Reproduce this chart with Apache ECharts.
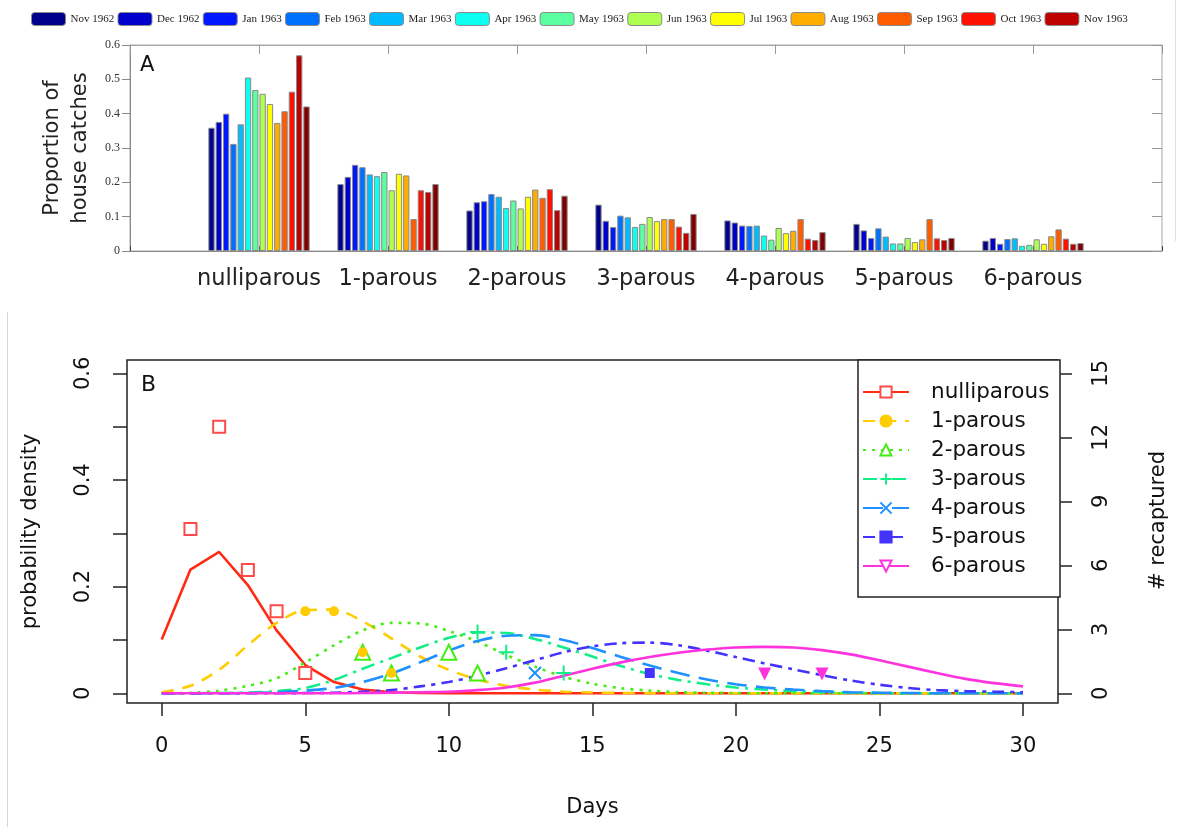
<!DOCTYPE html>
<html><head><meta charset="utf-8">
<script src="https://cdn.jsdelivr.net/npm/echarts@6/dist/echarts.min.js"></script>
<style>html,body{margin:0;padding:0;background:#fff}#c{width:1177px;height:827px}</style>
</head><body><div id="c"></div>
<script>
// ---------- Panel A data ----------
const months = ['Nov 1962','Dec 1962','Jan 1963','Feb 1963','Mar 1963','Apr 1963','May 1963','Jun 1963','Jul 1963','Aug 1963','Sep 1963','Oct 1963','Nov 1963','Dec 1963'];
const legendMonths = months.slice(0, 13);
const parityGroups = ['nulliparous','1-parous','2-parous','3-parous','4-parous','5-parous','6-parous'];
const shareNulliparous = [0.359,0.376,0.400,0.312,0.369,0.505,0.469,0.458,0.428,0.373,0.407,0.464,0.570,0.421];
const share1parous = [0.195,0.216,0.251,0.244,0.223,0.218,0.230,0.177,0.225,0.220,0.093,0.177,0.172,0.195];
const share2parous = [0.118,0.142,0.145,0.166,0.158,0.125,0.147,0.124,0.158,0.179,0.155,0.180,0.119,0.161];
const share3parous = [0.135,0.088,0.070,0.103,0.098,0.070,0.079,0.099,0.087,0.093,0.093,0.071,0.053,0.108];
const share4parous = [0.089,0.083,0.074,0.073,0.074,0.045,0.033,0.067,0.052,0.059,0.093,0.036,0.032,0.055];
const share5parous = [0.079,0.060,0.038,0.066,0.042,0.022,0.022,0.038,0.026,0.034,0.093,0.037,0.032,0.038];
const share6parous = [0.030,0.038,0.021,0.035,0.037,0.015,0.018,0.034,0.021,0.043,0.063,0.036,0.021,0.023];

// ---------- Panel B data ----------
const days = [0,1,2,3,4,5,6,7,8,9,10,11,12,13,14,15,16,17,18,19,20,21,22,23,24,25,26,27,28,29,30];
const densNulliparous = [0.101,0.232,0.265,0.203,0.118,0.053,0.021,0.007,0.002,0.0005,0,0,0,0,0,0,0,0,0,0,0,0,0,0,0,0,0,0,0,0,0];
const dens1parous = [0.002,0.014,0.044,0.090,0.132,0.156,0.157,0.135,0.103,0.069,0.044,0.026,0.014,0.007,0.003,0.0015,0.0007,0.0003,0.0001,0,0,0,0,0,0,0,0,0,0,0,0];
const dens2parous = [0,0.001,0.005,0.014,0.028,0.058,0.090,0.118,0.132,0.131,0.117,0.097,0.072,0.050,0.031,0.018,0.0095,0.005,0.002,0.001,0.0005,0,0,0,0,0,0,0,0,0,0];
const dens3parous = [0,0,0.0005,0.0015,0.004,0.010,0.025,0.046,0.066,0.086,0.104,0.114,0.113,0.102,0.086,0.069,0.051,0.036,0.025,0.017,0.011,0.007,0.004,0.002,0.001,0.0005,0,0,0,0,0];
const dens4parous = [0,0,0,0.0005,0.002,0.005,0.010,0.021,0.037,0.058,0.080,0.098,0.108,0.109,0.100,0.085,0.068,0.052,0.038,0.026,0.017,0.011,0.007,0.004,0.002,0.001,0.0005,0,0,0,0];
const dens5parous = [0,0,0,0,0,0.0005,0.001,0.003,0.006,0.013,0.021,0.033,0.047,0.062,0.077,0.088,0.094,0.095,0.090,0.080,0.068,0.056,0.045,0.034,0.024,0.016,0.010,0.006,0.004,0.003,0.002];
const dens6parous = [0,0,0,0,0,0,0,0.0005,0.001,0.002,0.003,0.006,0.011,0.020,0.033,0.046,0.058,0.068,0.076,0.082,0.086,0.087,0.086,0.081,0.073,0.062,0.050,0.038,0.027,0.019,0.013];
// observed recaptures (plotted as proportions)
const obsDaysNulliparous = [1,2,3,4,5];
const obsNulliparous = [0.308,0.500,0.231,0.154,0.038];
const obsDays1parous = [5,6,7,8];
const obs1parous = [0.154,0.154,0.077,0.038];
const obsDays2parous = [7,8,10,11];
const obs2parous = [0.077,0.038,0.077,0.038];
const obsDays3parous = [11,12,14];
const obs3parous = [0.115,0.077,0.038];
const obsDays4parous = [13];
const obs4parous = [0.038];
const obsDays5parous = [17];
const obs5parous = [0.038];
const obsDays6parous = [21,23];
const obs6parous = [0.036,0.036];
const xTicksB = [0,5,10,15,20,25,30];
const yTicksB = [0,0.1,0.2,0.3,0.4,0.5,0.6];
const yLabelsB = [0,0.2,0.4,0.6];
const recapTicks = [0,3,6,9,12,15];

// ---------- styles ----------
const monthColors = ['#00008C','#0000CE','#0018FF','#0070FF','#00BCFF','#0CFFF0','#5CFFA0','#AEFF50','#FFFF00','#FFAE00','#FF5C00','#FF1000','#BE0000','#800000'];
const curveStyles = [
  {color:'#FF2A12', type:'solid', symbol:'emptyRect', mcolor:'#FF4A4A', size:12, smooth:false, z:5},
  {color:'#FFCC00', type:[12,9], symbol:'circle', mcolor:'#FFCC00', size:10, smooth:0.3, z:6},
  {color:'#44EE11', type:[3,6], symbol:'emptyTriangle', mcolor:'#44EE11', size:15, smooth:0.3, z:4},
  {color:'#11EE88', type:[14,6,3,6], symbol:'path://M5,0L5,10M0,5L10,5', mcolor:'#11EE88', size:15, smooth:0.3, z:5},
  {color:'#1E90FF', type:[20,9], symbol:'path://M0,0L10,10M10,0L0,10', mcolor:'#1E90FF', size:12, smooth:0.3, z:5},
  {color:'#4433FF', type:[12,6,4,6], symbol:'rect', mcolor:'#4433FF', size:10, smooth:0.3, z:5},
  {color:'#FF33DD', type:'solid', symbol:'path://M0,0L10,0L5,9Z', mcolor:'#FF33DD', size:13, smooth:0.3, z:5}
];
const barGroups = [shareNulliparous,share1parous,share2parous,share3parous,share4parous,share5parous,share6parous];
const curves = [densNulliparous,dens1parous,dens2parous,dens3parous,dens4parous,dens5parous,dens6parous];
const obsDays = [obsDaysNulliparous,obsDays1parous,obsDays2parous,obsDays3parous,obsDays4parous,obsDays5parous,obsDays6parous];
const obsVals = [obsNulliparous,obs1parous,obs2parous,obs3parous,obs4parous,obs5parous,obs6parous];

const sans = 'DejaVu Sans';
const catA = [''].concat(parityGroups, ['']);

const series = [];
months.forEach((m, mi) => {
  series.push({
    name: m, type: 'bar', xAxisIndex: 0, yAxisIndex: 0,
    data: [null].concat(barGroups.map(g => g[mi]), [null]),
    barWidth: 6.3, barGap: '16%',
    itemStyle: {color: monthColors[mi], borderColor: '#8a8a8a', borderWidth: 1},
    emphasis: {disabled: true}
  });
});
parityGroups.forEach((p, pi) => {
  const st = curveStyles[pi];
  const isLineSym = pi === 3 || pi === 4;
  series.push({
    name: p, type: 'line', xAxisIndex: 2, yAxisIndex: 2,
    data: days.map((d, i) => [d, curves[pi][i]]),
    smooth: st.smooth, showSymbol: false, symbol: st.symbol, symbolSize: 12,
    lineStyle: {color: st.color, width: 2.6, type: st.type},
    itemStyle: {color: isLineSym ? 'rgba(0,0,0,0)' : (pi===6 ? '#fff' : st.mcolor), borderColor: st.mcolor, borderWidth: 2},
    z: 3, emphasis: {disabled: true}
  });
});
parityGroups.forEach((p, pi) => {
  const st = curveStyles[pi];
  const isLineSym = pi === 3 || pi === 4;
  series.push({
    name: p + ' observed', type: 'scatter', xAxisIndex: 2, yAxisIndex: 2,
    data: obsDays[pi].map((d, i) => [d, obsVals[pi][i]]),
    symbol: st.symbol, symbolSize: st.size,
    itemStyle: {color: isLineSym ? 'rgba(0,0,0,0)' : st.mcolor, borderColor: st.mcolor, borderWidth: isLineSym ? 2 : (st.symbol.indexOf('empty')===0 ? 2 : 0), opacity: 1},
    z: st.z, emphasis: {disabled: true}
  });
});

const chart = echarts.init(document.getElementById('c'), null, {renderer: 'canvas'});
chart.setOption({
  animation: false,
  backgroundColor: '#fff',
  textStyle: {fontFamily: sans},
  legend: [
    {
      data: legendMonths, left: 31, top: 12, orient: 'horizontal', itemGap: 3.3,
      itemWidth: 34, itemHeight: 13, padding: 0, selectedMode: false,
      itemStyle: {borderColor: '#8a8a8a', borderWidth: 1},
      textStyle: {fontFamily: 'Liberation Serif', fontSize: 11, color: '#222', width: 46, overflow: 'none'}
    },
    {
      data: parityGroups.map((p, i) => i === 6 ? {name: p, itemStyle: {color: '#fff', borderColor: '#FF33DD', borderWidth: 2}} : p),
      orient: 'vertical', left: 858, top: 360, selectedMode: false,
      itemWidth: 46, itemHeight: 14, itemGap: 7,
      padding: [21, 4, 20, 4],
      borderColor: '#222', borderWidth: 1.5, backgroundColor: '#fff',
      textStyle: {fontSize: 21.5, color: '#111', width: 125, lineHeight: 20, padding: [0,0,0,17]}
    }
  ],
  grid: [
    {left: 130, top: 45, width: 1032, height: 206, show: true, borderColor: '#a8a8a8', borderWidth: 1},
    {left: 127, top: 360, width: 932, height: 343, show: true, borderColor: '#222', borderWidth: 1.5}
  ],
  xAxis: [
    {gridIndex: 0, type: 'category', data: catA, boundaryGap: false, position: 'bottom',
     axisLine: {onZero: false, lineStyle: {color: '#8a8a8a'}},
     axisTick: {inside: true, length: 5, lineStyle: {color: '#444'}},
     axisLabel: {fontSize: 22.5, color: '#222', margin: 17, interval: 0}},
    {gridIndex: 0, type: 'category', data: catA, boundaryGap: false, position: 'top',
     axisLine: {onZero: false, lineStyle: {color: '#a8a8a8'}},
     axisTick: {inside: true, length: 9, lineStyle: {color: '#999'}},
     axisLabel: {show: false}},
    {gridIndex: 1, type: 'value', min: -1.21, max: 31.22, position: 'bottom',
     axisLine: {show: false, onZero: false}, splitLine: {show: false},
     axisTick: {customValues: xTicksB, length: 13, lineStyle: {color: '#222', width: 1.5}},
     axisLabel: {customValues: xTicksB, fontSize: 21, color: '#111', margin: 33},
     name: 'Days', nameLocation: 'middle', nameGap: 94, nameTextStyle: {fontSize: 21, color: '#111'}}
  ],
  yAxis: [
    {gridIndex: 0, type: 'value', min: 0, max: 0.6, interval: 0.1, position: 'left',
     axisLine: {show: true, onZero: false, lineStyle: {color: '#8a8a8a'}}, splitLine: {show: false},
     axisTick: {show: true, length: 8, lineStyle: {color: '#8a8a8a'}},
     axisLabel: {fontFamily: 'Liberation Serif', fontSize: 12, color: '#333', margin: 10},
     name: 'Proportion of\nhouse catches', nameLocation: 'middle', nameGap: 24,
     nameTextStyle: {fontSize: 21, color: '#222', lineHeight: 28}},
    {gridIndex: 0, type: 'value', min: 0, max: 0.6, interval: 0.1, position: 'right',
     axisLine: {show: false, onZero: false}, splitLine: {show: false},
     axisTick: {show: true, inside: true, length: 10, lineStyle: {color: '#999'}},
     axisLabel: {show: false}},
    {gridIndex: 1, type: 'value', min: -0.0182, max: 0.625, position: 'left',
     axisLine: {show: false, onZero: false}, splitLine: {show: false},
     axisTick: {show: true, customValues: yTicksB, length: 14, lineStyle: {color: '#222', width: 1.5}},
     axisLabel: {customValues: yLabelsB, rotate: 90, fontSize: 21, color: '#111', margin: 33},
     name: 'probability density', nameLocation: 'middle', nameGap: 86,
     nameTextStyle: {fontSize: 21, color: '#111'}},
    {gridIndex: 1, type: 'value', min: -0.455, max: 15.625, position: 'right',
     axisLine: {show: false, onZero: false}, splitLine: {show: false},
     axisTick: {show: true, customValues: recapTicks, length: 14, lineStyle: {color: '#222', width: 1.5}},
     axisLabel: {customValues: recapTicks, rotate: 90, fontSize: 21, color: '#111', margin: 33},
     name: '# recaptured', nameLocation: 'middle', nameGap: 90,
     nameTextStyle: {fontSize: 21, color: '#111', padding: [0, 0, 0, 22]}}
  ],
  graphic: [
    {type: 'text', left: 140, top: 55, style: {text: 'A', fontSize: 21, fontFamily: sans, fill: '#111'}},
    {type: 'text', left: 141, top: 374, style: {text: 'B', fontSize: 22, fontFamily: sans, fill: '#111'}},
    {type: 'line', shape: {x1: 7.5, y1: 312, x2: 7.5, y2: 827}, style: {stroke: '#d5d5d5', lineWidth: 1}},
    {type: 'line', shape: {x1: 1175.5, y1: 0, x2: 1175.5, y2: 241}, style: {stroke: '#e0e0e0', lineWidth: 1}}
  ],
  series: series
});
</script></body></html>
